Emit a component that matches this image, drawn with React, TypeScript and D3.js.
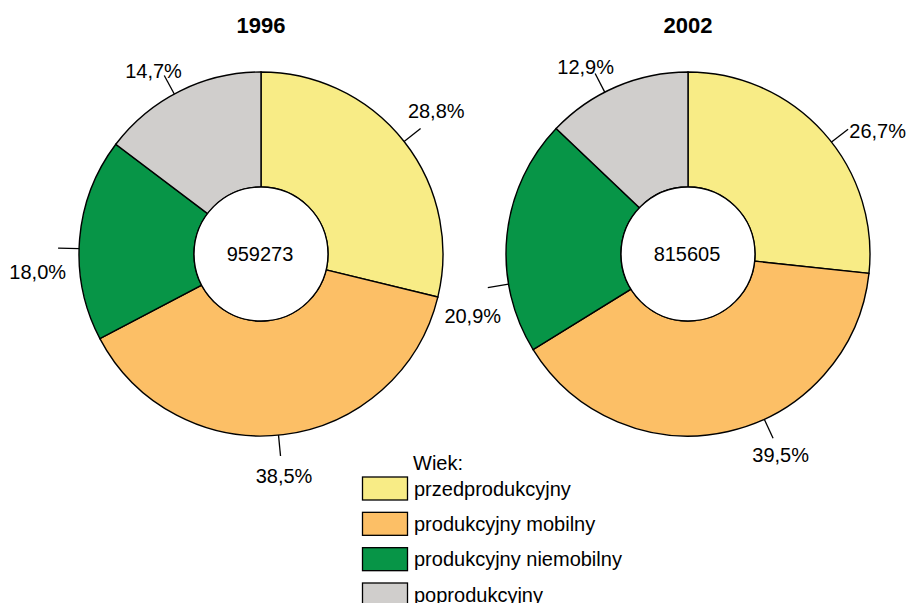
import React from "react";
import * as d3 from "d3";

// data
const years = ["1996", "2002"];
const totals = ["959273", "815605"];
const categories = [
  "przedprodukcyjny",
  "produkcyjny mobilny",
  "produkcyjny niemobilny",
  "poprodukcyjny",
];
const shares1996 = [28.8, 38.5, 18.0, 14.7];
const shares2002 = [26.7, 39.5, 20.9, 12.9];

const colors = ["#F8EC86", "#FCBF66", "#079547", "#D0CECC"];

// label placement tweaks (degrees / px), kept apart from the data
const leaderShift = [
  [0, 1.5, -3, -2],
  [4, -12, -15.5, -4],
];
const textShift = [
  [-1, -0.4, -6.3, -2],
  [5, 0, -6.5, -1.5],
];
const textGap = [
  [44, 41, 42, 30],
  [44, 39, 42, 31],
];

const width = 908;
const height = 603;
const radius = 182;
const innerRadius = 67;
const centersX = [261, 688];
const centerY = 254;
const font = "Arial, 'Liberation Sans', sans-serif";

const toRad = d3.scaleLinear().domain([0, 360]).range([0, 2 * Math.PI]);
const fmt = (v: number) => d3.format(".1f")(v).replace(".", ",") + "%";

const polar = (cx: number, r: number, a: number) => [
  cx + r * Math.sin(a),
  centerY - r * Math.cos(a),
];

const Donut = ({ idx, values }: { idx: number; values: number[] }) => {
  const cx = centersX[idx];
  const pie = d3.pie<number>().sort(null).value((d) => d);
  const arcs = pie(values);
  const arc = d3
    .arc<d3.PieArcDatum<number>>()
    .innerRadius(innerRadius)
    .outerRadius(radius);

  return (
    <g>
      <text
        x={cx}
        y={25}
        textAnchor="middle"
        dy="0.35em"
        fontFamily={font}
        fontWeight="bold"
        fontSize={22}
      >
        {years[idx]}
      </text>
      <g transform={`translate(${cx},${centerY})`}>
        {arcs.map((a, i) => (
          <path
            key={i}
            d={arc(a) || ""}
            fill={colors[i]}
            stroke="#000"
            strokeWidth={1.4}
          />
        ))}
        <circle r={innerRadius} fill="#fff" stroke="#000" strokeWidth={1.4} />
      </g>
      <text
        x={cx - 1}
        y={centerY}
        dy="0.35em"
        textAnchor="middle"
        fontFamily={font}
        fontSize={20}
      >
        {totals[idx]}
      </text>
      {arcs.map((a, i) => {
        const mid = (a.startAngle + a.endAngle) / 2;
        const la = mid + toRad(leaderShift[idx][i]);
        const ta = la + toRad(textShift[idx][i]);
        const [x1, y1] = polar(cx, radius, la);
        const [x2, y2] = polar(cx, radius + 21, la);
        const [tx, ty] = polar(cx, radius + textGap[idx][i], ta);
        return (
          <g key={i}>
            <line x1={x1} y1={y1} x2={x2} y2={y2} stroke="#000" strokeWidth={1.3} />
            <text
              x={tx}
              y={ty}
              dy="0.35em"
              textAnchor="middle"
              fontFamily={font}
              fontSize={20}
            >
              {fmt(values[i])}
            </text>
          </g>
        );
      })}
    </g>
  );
};

const Legend = () => {
  const y = d3
    .scaleLinear()
    .domain([0, categories.length - 1])
    .range([477, 583]);
  return (
    <g fontFamily={font} fontSize={20}>
      <text x={413} y={463} dy="0.35em">
        Wiek:
      </text>
      {categories.map((c, i) => (
        <g key={c}>
          <rect
            x={362.5}
            y={y(i)}
            width={45}
            height={23}
            fill={colors[i]}
            stroke="#000"
            strokeWidth={1.3}
          />
          <text x={414} y={y(i) + 11.5} dy="0.35em">
            {c}
          </text>
        </g>
      ))}
    </g>
  );
};

export default function App() {
  return (
    <svg
      width={width}
      height={height}
      style={{ position: "absolute", left: 0, top: 0, background: "#fff" }}
    >
      <Donut idx={0} values={shares1996} />
      <Donut idx={1} values={shares2002} />
      <Legend />
    </svg>
  );
}
